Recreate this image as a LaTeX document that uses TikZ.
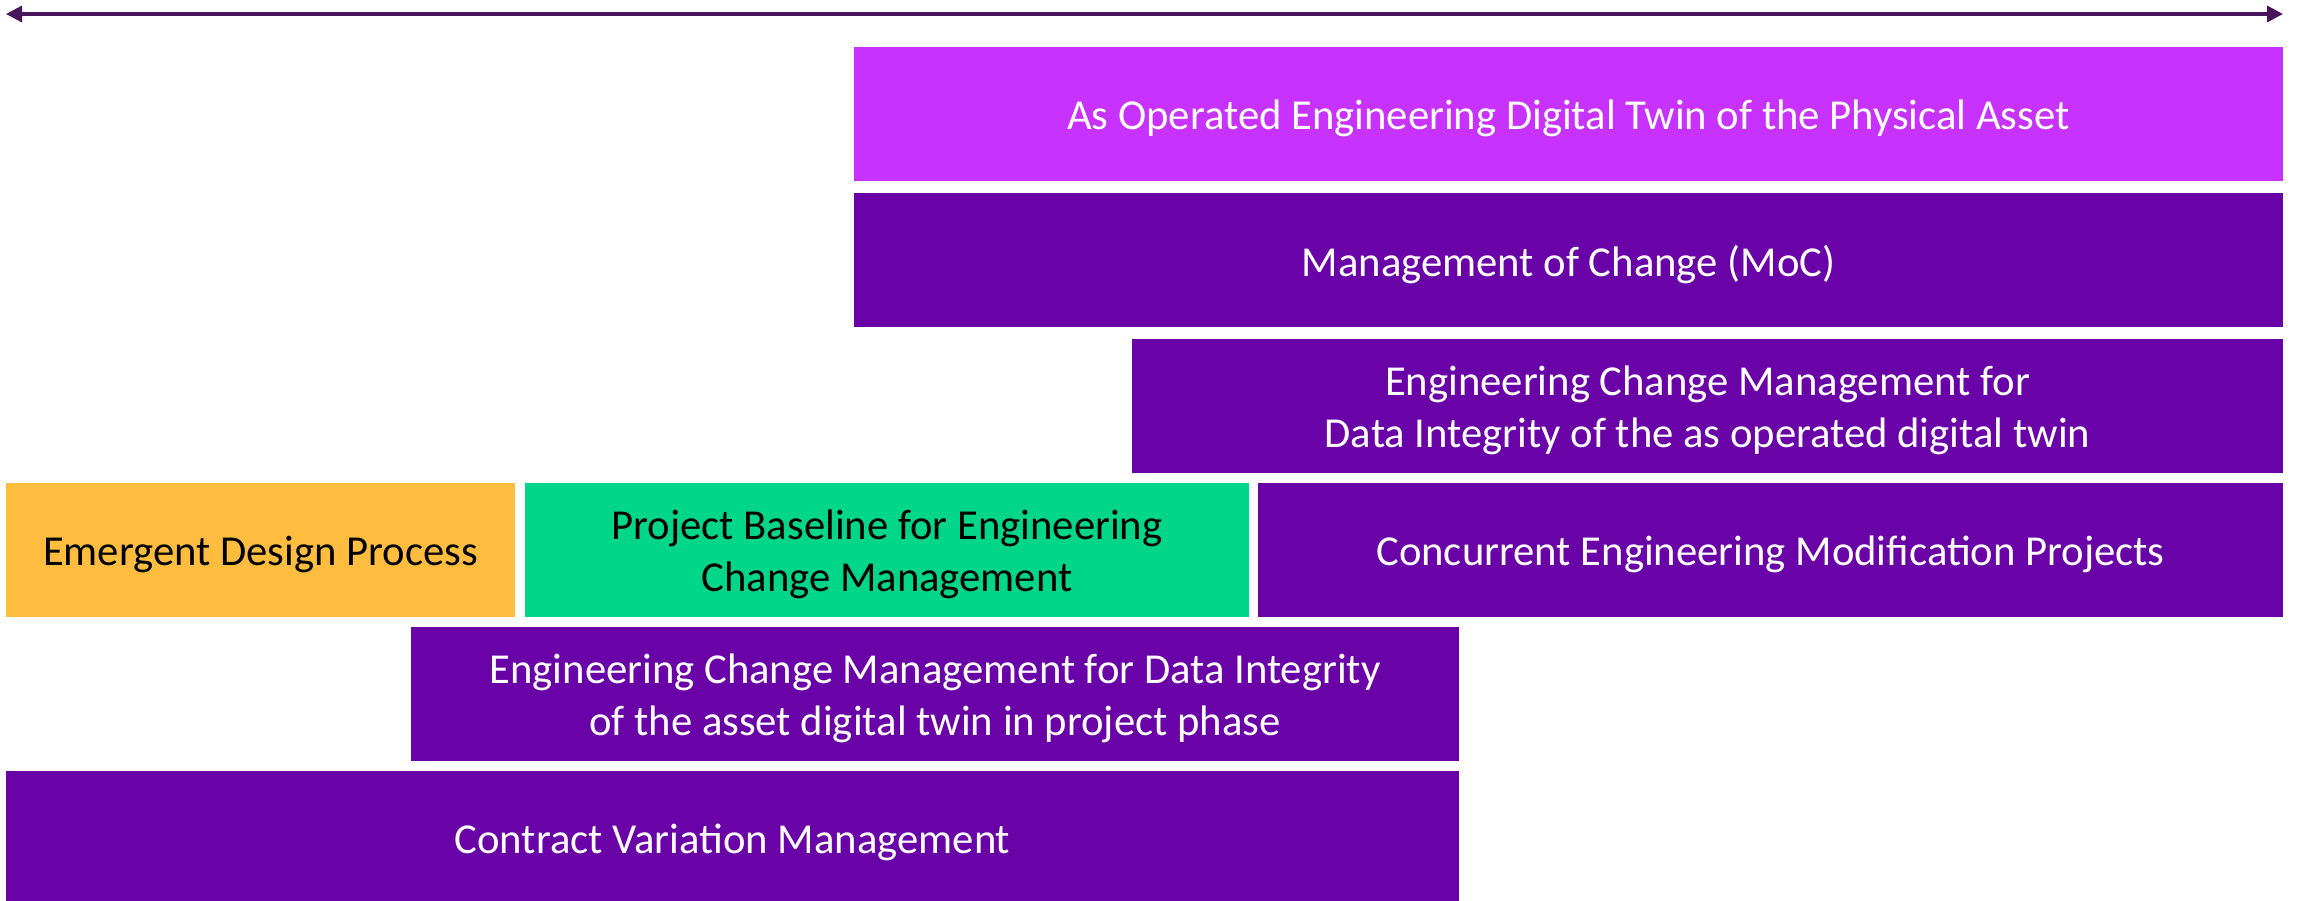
\documentclass[tikz,border=0pt]{standalone}
\usepackage{fontspec}
\setmainfont{Carlito}
\usepackage{tikz}
\usetikzlibrary{arrows.meta}

\begin{document}
\begin{tikzpicture}[x=0.75pt,y=0.75pt,yscale=-1,xscale=1,
  phase/.style={draw=none, inner sep=0pt, outer sep=0pt, minimum height=100.5pt},
  operated/.style={phase, fill={rgb, 255:red, 200; green, 50; blue, 255 }},
  change/.style={phase, fill={rgb, 255:red, 106; green, 3; blue, 167 }},
  emergent/.style={phase, fill={rgb, 255:red, 255; green, 189; blue, 64 }},
  baseline/.style={phase, fill={rgb, 255:red, 0; green, 214; blue, 137 }},
  phasetext/.style={inner sep=0pt, align=center, text=white, font=\fontsize{32}{38.8}\selectfont},
  darktext/.style={phasetext, text=black},
  timeline/.style={color={rgb, 255:red, 72; green, 20; blue, 90 }, line width=2.5pt,
    {Triangle[length=12pt,width=12pt]}-{Triangle[length=12pt,width=12pt]}}]
\useasboundingbox (0,0) rectangle (2297,900);

%Straight Lines [id:timeline]
\coordinate (tstart) at (6,14);
\coordinate (tend) at (2283,14);
\draw [timeline] (tstart) -- (tend);

%Shape: Rectangle [id:asop]
\node [operated, minimum width=1071.75pt] (asop) at (1568.5,114) {};
%Shape: Rectangle [id:moc]
\node [change, minimum width=1071.75pt] (moc) at (1568.5,260) {};
%Shape: Rectangle [id:ecmop]
\node [change, minimum width=863.25pt] (ecmop) at (1707.5,406) {};
%Shape: Rectangle [id:emergent]
\node [emergent, minimum width=381.75pt] (emergent) at (260.5,550) {};
%Shape: Rectangle [id:baseline]
\node [baseline, minimum width=543pt] (baseline) at (887,550) {};
%Shape: Rectangle [id:concurrent]
\node [change, minimum width=768.75pt] (concurrent) at (1770.5,550) {};
%Shape: Rectangle [id:ecmproj]
\node [change, minimum width=786pt] (ecmproj) at (935,694) {};
%Shape: Rectangle [id:contract]
\node [change, minimum width=1089.75pt] (contract) at (732.5,838) {};

% Text Node
\node [phasetext] (asoptext) at (1568.5,118.5) {As Operated Engineering Digital Twin of the Physical Asset};
% Text Node
\node [phasetext] (moctext) at (1568.5,264.5) {Management of Change (MoC)};
% Text Node
\node [phasetext] (ecmoptext) at (1707.5,410.5) {Engineering Change Management for\\Data Integrity of the as operated digital twin};
% Text Node
\node [darktext] (emergenttext) at (260.5,554.5) {Emergent Design Process};
% Text Node
\node [darktext] (baselinetext) at (887,554.5) {Project Baseline for Engineering\\Change Management};
% Text Node
\node [phasetext] (concurrenttext) at (1770.5,554.5) {Concurrent Engineering Modification Projects};
% Text Node
\node [phasetext] (ecmprojtext) at (935,698.5) {Engineering Change Management for Data Integrity\\of the asset digital twin in project phase};
% Text Node
\node [phasetext] (contracttext) at (732.5,842.5) {Contract Variation Management};

\end{tikzpicture}
\end{document}
